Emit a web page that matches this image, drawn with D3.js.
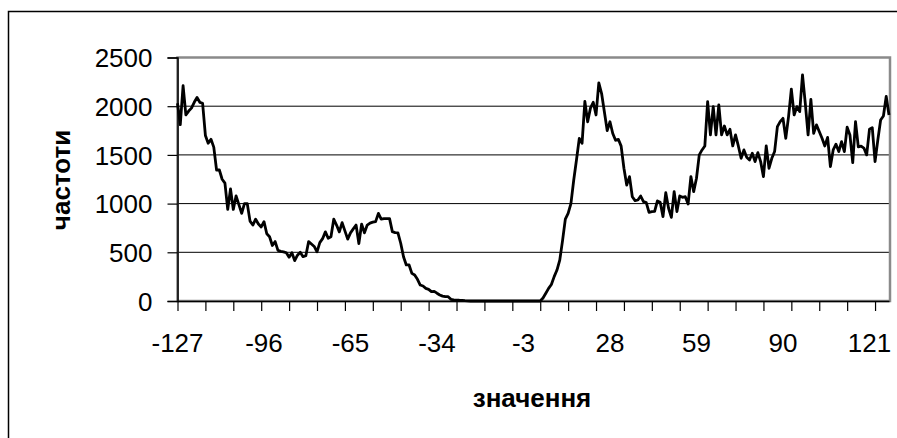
<!DOCTYPE html>
<html>
<head>
<meta charset="utf-8">
<script src="https://cdn.jsdelivr.net/npm/d3@7/dist/d3.min.js"></script>
<style>
    body { margin: 0; background: #fff; }
    svg text { font-family: "Liberation Sans", Arial, sans-serif; fill: #000; }
</style>
</head>
<body>
<svg id="chart" width="897" height="438"></svg>
<script>
// frequencies for values -127 .. 128
var startValue = -127;
var freqs = [
    2030, 1810, 2210, 1910, 1950, 1980, 2040, 2090, 2040, 2030,
    1700, 1620, 1660, 1580, 1345, 1345, 1250, 1210, 940, 1150,
    940, 1080, 990, 900, 1000, 1000, 820, 780, 840, 790,
    760, 815, 690, 660, 570, 610, 520, 510, 505, 495,
    450, 495, 415, 470, 500, 455, 465, 610, 585, 560,
    505, 600, 640, 710, 645, 660, 840, 780, 710, 805,
    720, 635, 700, 740, 780, 590, 790, 700, 780, 800,
    810, 815, 900, 840, 846, 846, 846, 712, 702, 700,
    593, 455, 370, 370, 284, 267, 223, 164, 154, 130,
    120, 96, 99, 80, 62, 50, 44, 44, 17, 12,
    10, 8, 7, 3, 2, 0, 0, 0, 0, 0,
    0, 0, 0, 0, 0, 0, 0, 0, 0, 0,
    0, 0, 0, 0, 0, 0, 0, 0, 0, 0,
    0, 30, 79, 130, 170, 250, 318, 420, 620, 840,
    900, 1000, 1240, 1450, 1670, 1620, 2050, 1840, 1980, 2040,
    1910, 2240, 2130, 1940, 1750, 1840, 1720, 1650, 1660, 1590,
    1363, 1190, 1277, 1070, 1030, 1037, 1078, 1020, 1010, 911,
    918, 920, 1027, 1013, 866, 1112, 952, 859, 1123, 918,
    1078, 1065, 1071, 996, 1277, 1123, 1260, 1500, 1551, 1592,
    2047, 1705, 1996, 1705, 2013, 1705, 1797, 1705, 1763, 1592,
    1705, 1592, 1465, 1551, 1475, 1448, 1517, 1431, 1524, 1431,
    1277, 1592, 1363, 1465, 1534, 1790, 1842, 1876, 1671, 1893,
    2174, 1910, 1996, 1944, 2321, 2030, 1705, 2071, 1722, 1808,
    1740, 1671, 1592, 1680, 1380, 1551, 1610, 1534, 1637, 1534,
    1784, 1705, 1420, 1842, 1582, 1590, 1570, 1500, 1763, 1780,
    1431, 1654, 1859, 1900, 2100, 1910
];
var xLabels = [-127, -96, -65, -34, -3, 28, 59, 90, 121];
var yTicks = [0, 500, 1000, 1500, 2000, 2500];

var data = freqs.map((f, i) => { return { v: startValue + i, f: f } });

var svg = d3.select("svg#chart");
var plotLeft = 177.5, plotRight = 889, plotTop = 57.5, plotBottom = 301;

var x = d3.scaleLinear()
    .domain([startValue, startValue + freqs.length - 1])
    .range([plotLeft, plotRight]);
var y = d3.scaleLinear()
    .domain([0, 2500])
    .range([plotBottom, plotTop]);

// outer chart frame (only top and left show)
svg.append("rect")
    .attr("x", 8.5).attr("y", 11.5)
    .attr("width", 1000).attr("height", 1000)
    .attr("fill", "none")
    .attr("stroke", "#000")
    .attr("stroke-width", 1.5);

// gridlines
svg.append("g")
    .selectAll("line")
    .data(yTicks.slice(1, -1))
    .enter()
    .append("line")
    .attr("x1", plotLeft).attr("x2", plotRight)
    .attr("y1", d => y(d)).attr("y2", d => y(d))
    .attr("stroke", "#000")
    .attr("stroke-width", 1);

// plot area border
svg.append("rect")
    .attr("x", plotLeft).attr("y", plotTop)
    .attr("width", plotRight - plotLeft + 1).attr("height", plotBottom - plotTop)
    .attr("fill", "none")
    .attr("stroke", "#8a8a8a")
    .attr("stroke-width", 2.5);

// y axis
var yAxis = d3.axisLeft(y)
    .tickValues(yTicks)
    .tickSize(10)
    .tickPadding(15)
    .tickFormat(d3.format("d"));
var gy = svg.append("g")
    .attr("transform", "translate(" + plotLeft + ",0)")
    .call(yAxis);
gy.select(".domain").attr("stroke", "#000").attr("stroke-width", 1.5);
gy.selectAll(".tick line").attr("stroke", "#000").attr("stroke-width", 1.2);
gy.selectAll(".tick text")
    .style("font-size", "26px")
    .attr("dy", "0.36em");

// x axis: tick marks every 10 values, labels every 31
var tickVals = d3.range(startValue, startValue + freqs.length, 10);
var xAxis = d3.axisBottom(x)
    .tickValues(tickVals)
    .tickSize(10)
    .tickSizeOuter(0)
    .tickFormat("");
var gx = svg.append("g")
    .attr("transform", "translate(0," + plotBottom + ")")
    .call(xAxis);
gx.select(".domain").attr("stroke", "#000").attr("stroke-width", 1.5);
gx.selectAll(".tick line").attr("stroke", "#000").attr("stroke-width", 1.2);

svg.append("g")
    .selectAll("text")
    .data(xLabels)
    .enter()
    .append("text")
    .attr("x", d => x(d))
    .attr("y", 352)
    .attr("text-anchor", "middle")
    .style("font-size", "26px")
    .text(d => d);

// the line
var line = d3.line()
    .x(d => x(d.v))
    .y(d => y(d.f));
svg.append("path")
    .datum(data)
    .attr("d", line)
    .attr("fill", "none")
    .attr("stroke", "#000")
    .attr("stroke-width", 2.8)
    .attr("stroke-linejoin", "round");

// axis titles
svg.append("text")
    .attr("x", 532)
    .attr("y", 407)
    .attr("text-anchor", "middle")
    .style("font-size", "26px")
    .style("font-weight", "bold")
    .text("значення");

svg.append("text")
    .attr("transform", "translate(70,180) rotate(-90)")
    .attr("text-anchor", "middle")
    .style("font-size", "26px")
    .style("font-weight", "bold")
    .text("частоти");
</script>
</body>
</html>
